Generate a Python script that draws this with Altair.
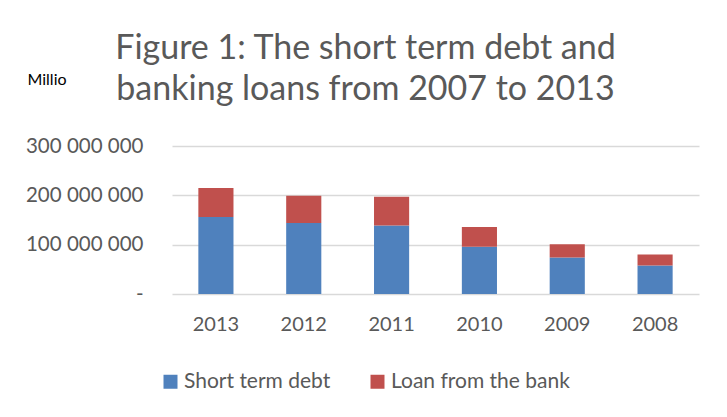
import altair as alt
import pandas as pd

years = ["2013", "2012", "2011", "2010", "2009", "2008"]
short_term_debt = [156000000, 144000000, 139000000, 96000000, 74000000, 58000000]
bank_loans = [59000000, 55000000, 58000000, 40000000, 27000000, 22000000]
series = ["Short term debt", "Loan from the bank"]
colors = ["#4F81BD", "#C0504D"]
y_ticks = [0, 100000000, 200000000, 300000000]

rows = []
for i, y in enumerate(years):
    rows.append({"year": y, "series": series[0], "value": short_term_debt[i], "order": 0})
    rows.append({"year": y, "series": series[1], "value": bank_loans[i], "order": 1})
df = pd.DataFrame(rows)

FONT = "Lato"
GRAY = "#595959"

chart = alt.Chart(df).mark_bar().encode(
    x=alt.X("year:N", sort=years,
            scale=alt.Scale(paddingInner=0.6, paddingOuter=0.3),
            axis=alt.Axis(title=None, labelAngle=0, labelFont=FONT, labelFontSize=20,
                          labelColor=GRAY, labelPadding=20, ticks=False, domain=False,
                          grid=False)),
    y=alt.Y("value:Q", stack="zero",
            scale=alt.Scale(domain=[0, 300000000], nice=False),
            axis=alt.Axis(values=y_ticks, title="Millio", titleAngle=0, titleAlign="left",
                          titleBaseline="alphabetic", titleX=-145, titleY=-62,
                          titleFont=FONT, titleFontSize=16, titleFontWeight="normal",
                          titleColor="#000000",
                          labelExpr="datum.value == 0 ? '-\u00a0\u00a0\u00a0' : replace(format(datum.value, ','), /,/g, ' ')",
                          labelFont=FONT, labelFontSize=20.5, labelColor=GRAY, labelPadding=29,
                          ticks=False, domain=False, grid=True, gridColor="#D9D9D9",
                          gridWidth=1.3)),
    color=alt.Color("series:N", sort=series,
                    scale=alt.Scale(domain=series, range=colors),
                    legend=alt.Legend(title=None, orient="none", direction="horizontal",
                                      legendX=-12, legendY=225, symbolType="square",
                                      symbolSize=196, symbolStrokeWidth=0,
                                      labelFont=FONT, labelFontSize=21, labelColor=GRAY,
                                      labelOffset=3, columnPadding=36, labelLimit=0)),
    order=alt.Order("order:Q"),
).properties(
    width=527,
    height=148,
    background="white",
    autosize=alt.AutoSizeParams(type="none"),
    padding={"left": 164, "top": 138, "right": 20, "bottom": 115},
    title=alt.TitleParams(
        text=["Figure 1: The short term debt and", "banking loans from 2007 to 2013"],
        font=FONT, fontSize=34, fontWeight="normal", color=GRAY,
        anchor="middle", dx=-70, dy=76, offset=40, lineHeight=41,
    ),
).configure_view(strokeWidth=0, stroke=None)

chart.save("out.html", embed_options={"renderer": "svg", "actions": False})
